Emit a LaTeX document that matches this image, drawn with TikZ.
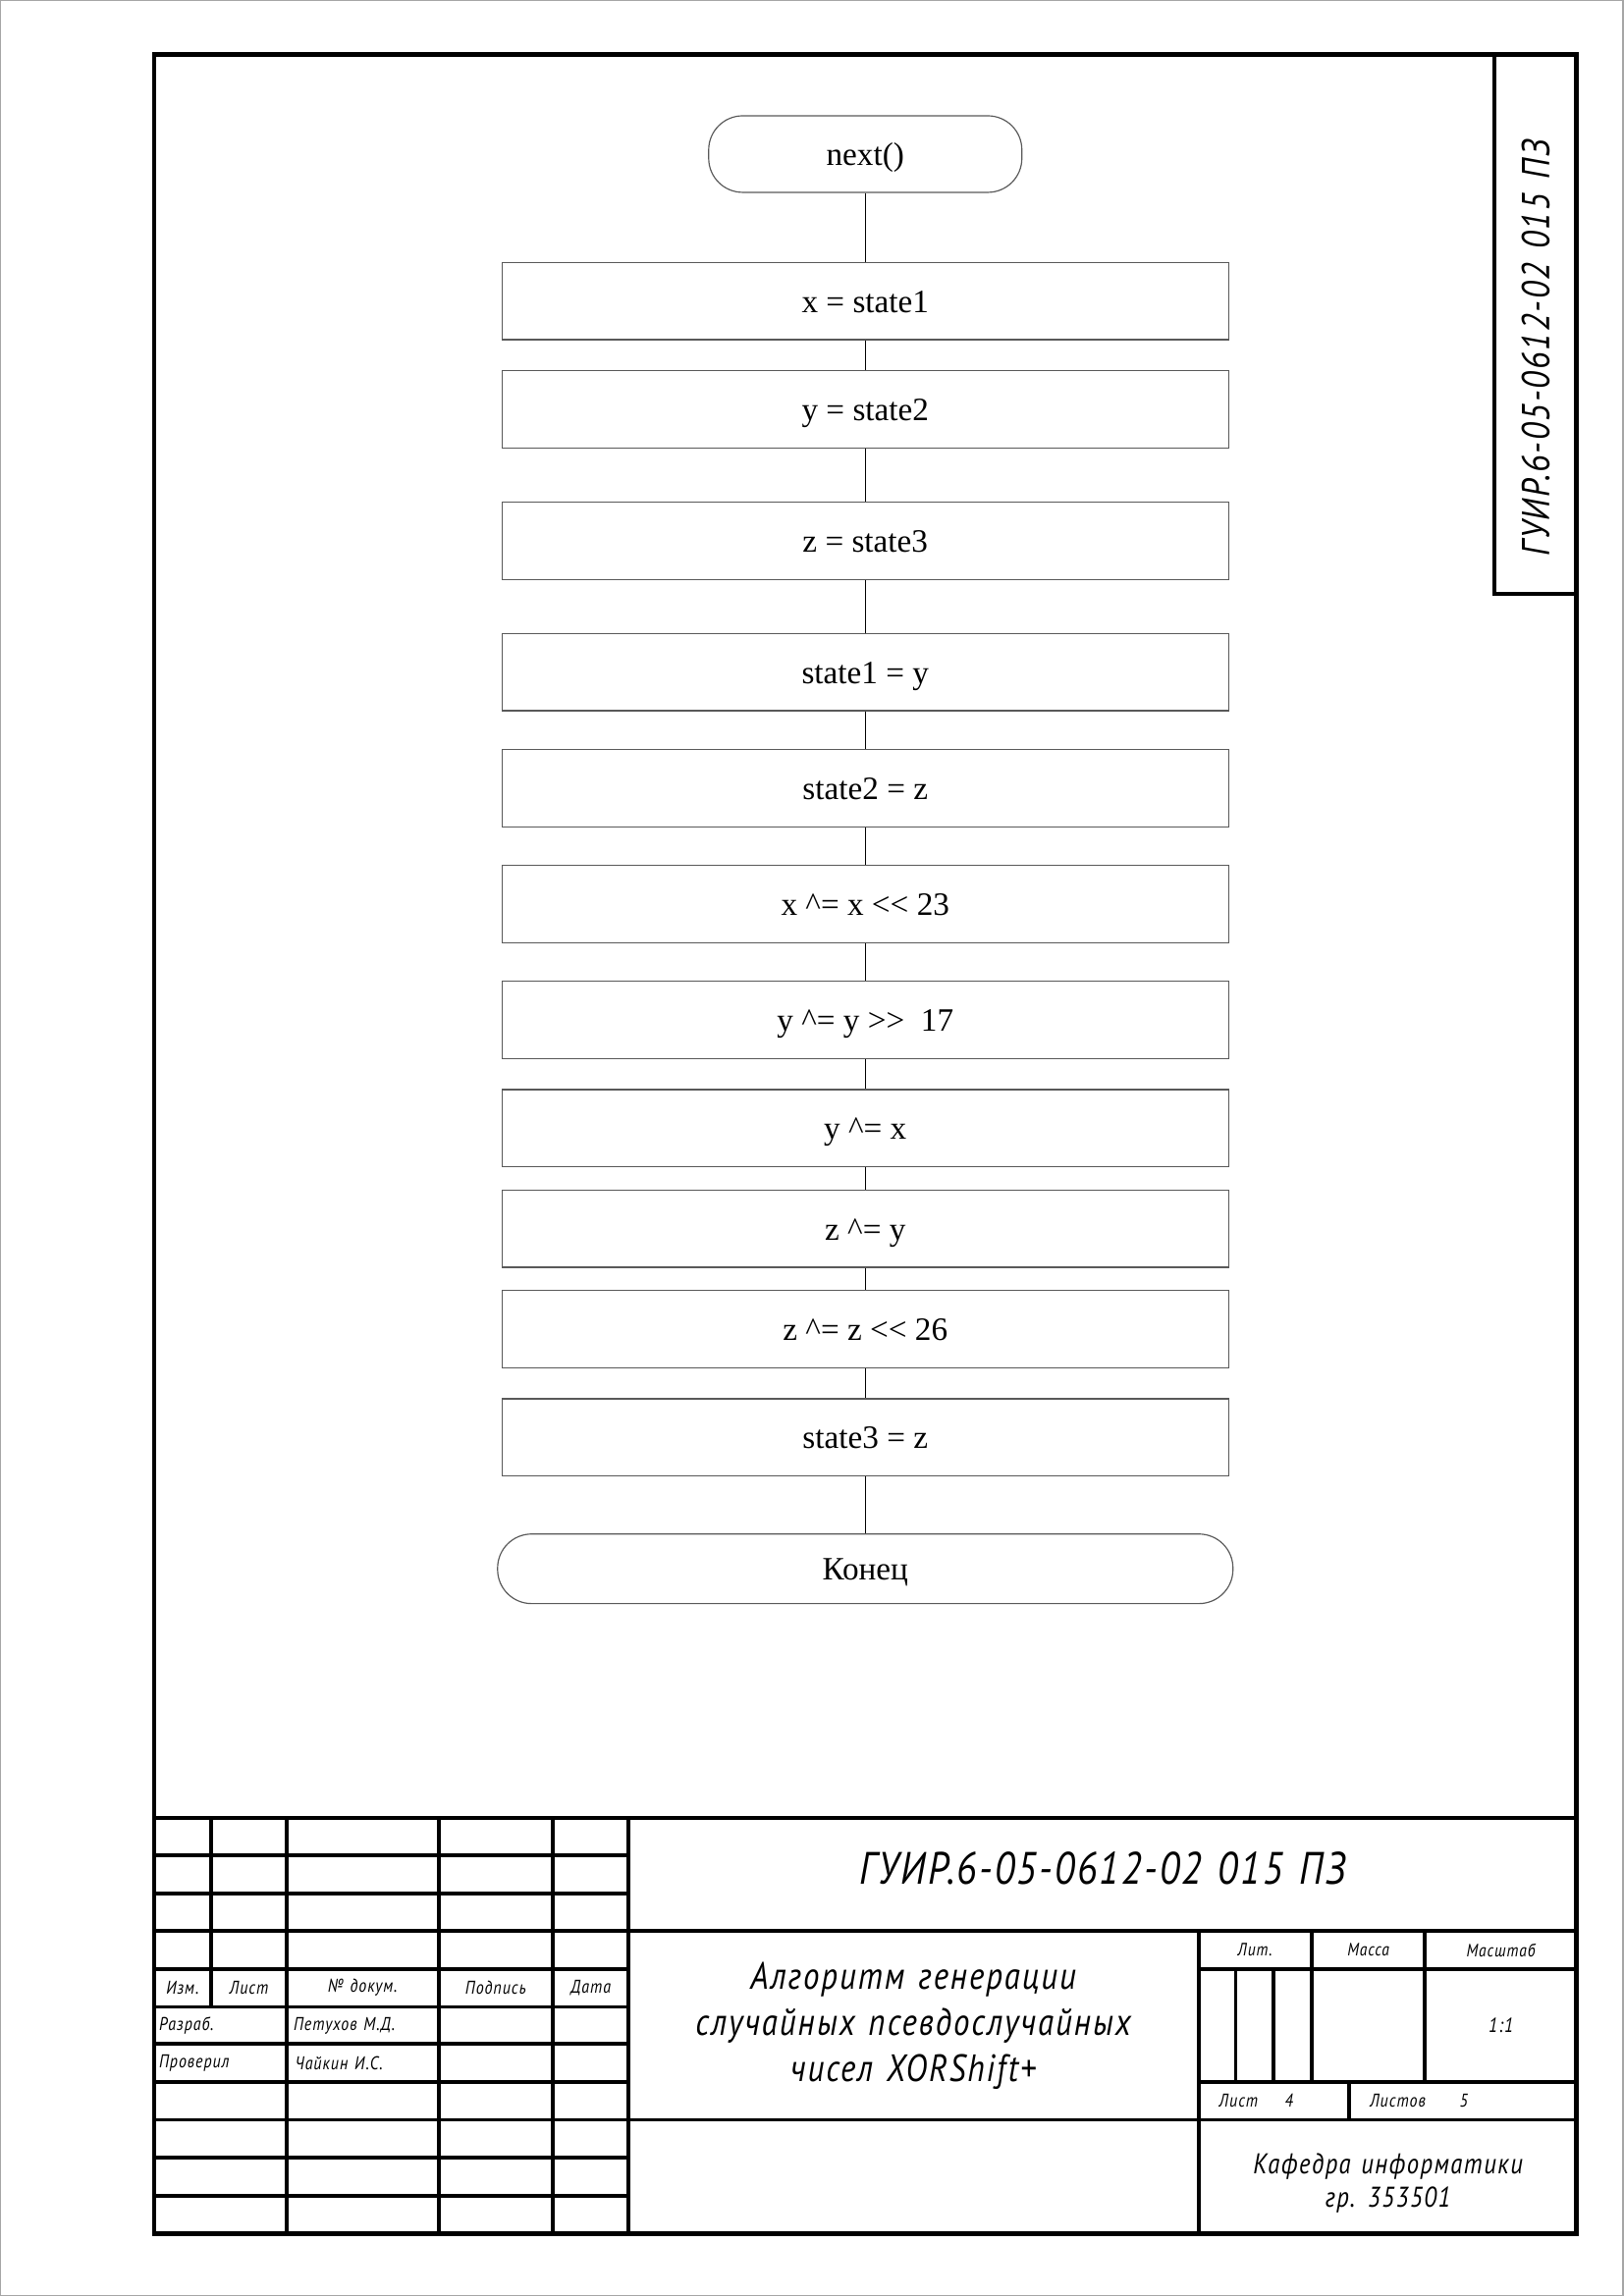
\documentclass[tikz,border=0pt]{standalone}
\usepackage{fontspec}
\setmainfont{Liberation Serif}
\newfontfamily\gost{PT Sans}[FakeStretch=0.85, LetterSpace=5, WordSpace=1.3]
\usetikzlibrary{positioning}
\newcommand{\gostsize}[1]{\gost\itshape\fontsize{#1}{#1}\selectfont}
\tikzset{
  proc/.style={draw=black!65, line width=0.15mm, minimum width=94mm, minimum height=10mm,
    inner sep=0pt, text height=8.3pt, text depth=0pt, font=\fontsize{12}{14}\selectfont},
  term/.style={proc, rounded corners=4.4mm},
  link/.style={line width=0.18mm},
  frame/.style={line width=0.5mm},
}

\begin{document}
\begin{tikzpicture}[x=1mm, y=-1mm]
  \useasboundingbox (0,0) rectangle (210,297);
  \draw[black!35, line width=0.15mm] (0.1,0.1) rectangle (209.9,296.9);
  % sheet frame
  \draw[frame, line width=0.6mm] (19.95,7) rectangle (203.9,288.9);
  \draw[frame] (193.3,7) -- (193.3,76.8) -- (203.9,76.8);
  \node[rotate=90, font=\gostsize{14.3}] (SideCode) at (198.6,45) {ГУИР.6-05-0612-02 015 ПЗ};

  % flowchart
  \node[term, minimum width=40.5mm, minimum height=9.9mm] (Start) at (111.9,19.93) {next()};
  \node[proc, on grid, below=19mm of Start] (X) {x = state1};
  \node[proc, on grid, below=14mm of X] (Y) {y = state2};
  \node[proc, on grid, below=17mm of Y] (Z) {z = state3};
  \node[proc, on grid, below=17mm of Z] (S1) {state1 = y};
  \node[proc, on grid, below=15mm of S1] (S2) {state2 = z};
  \node[proc, on grid, below=15mm of S2] (XX) {x \textasciicircum= x <{}< 23};
  \node[proc, on grid, below=15mm of XX] (YY) {y \textasciicircum= y >{}>\ \ 17};
  \node[proc, on grid, below=14mm of YY] (YX) {y \textasciicircum= x};
  \node[proc, on grid, below=13mm of YX] (ZY) {z \textasciicircum= y};
  \node[proc, on grid, below=13mm of ZY] (ZZ) {z \textasciicircum= z <{}< 26};
  \node[proc, on grid, below=14mm of ZZ] (S3) {state3 = z};
  \node[term, on grid, below=17mm of S3, minimum width=95.1mm, minimum height=9mm] (End) {Конец};
  \draw[link] (Start) to (X);
  \draw[link] (X) to (Y);
  \draw[link] (Y) to (Z);
  \draw[link] (Z) to (S1);
  \draw[link] (S1) to (S2);
  \draw[link] (S2) to (XX);
  \draw[link] (XX) to (YY);
  \draw[link] (YY) to (YX);
  \draw[link] (YX) to (ZY);
  \draw[link] (ZY) to (ZZ);
  \draw[link] (ZZ) to (S3);
  \draw[link] (S3) to (End);

  % title block
  \draw[frame] (19.95,235.1) -- (203.9,235.1);
  \foreach \r in {240.0,244.9,249.8,254.7,259.6,264.4,269.3,274.2,279.1,284.0}
    \draw[frame] (19.95,\r) -- (81.25,\r);
  \draw[frame] (27.3,235.1) -- (27.3,259.6);
  \foreach \c in {37.1,56.75,71.5,81.25}
    \draw[frame] (\c,235.1) -- (\c,288.9);
  \draw[frame] (81.25,249.8) -- (203.9,249.8);
  \draw[frame] (81.25,274.2) -- (203.9,274.2);
  \draw[frame] (155,249.8) -- (155,288.9);
  \draw[frame] (155,254.7) -- (203.9,254.7);
  \draw[frame] (155,269.3) -- (203.9,269.3);
  \foreach \c in {159.8,164.7}
    \draw[frame] (\c,254.7) -- (\c,269.3);
  \foreach \c in {169.6,184.3}
    \draw[frame] (\c,249.8) -- (\c,269.3);
  \draw[frame] (174.5,269.3) -- (174.5,274.2);

  \node[font=\gostsize{6.8}] (Izm) at (23.6,257.15) {Изм.};
  \node[font=\gostsize{6.8}] (List) at (32.2,257.15) {Лист};
  \node[font=\gostsize{6.8}] (Doc) at (46.9,257.15) {№ докум.};
  \node[font=\gostsize{6.8}] (Sign) at (64.1,257.15) {Подпись};
  \node[font=\gostsize{6.8}] (Date) at (76.4,257.15) {Дата};
  \node[font=\gostsize{6.8}, anchor=west, inner sep=0pt] (Dev) at (20.5,262.0) {Разраб.};
  \node[font=\gostsize{6.8}, anchor=west, inner sep=0pt] (DevName) at (37.9,262.0) {Петухов М.Д.};
  \node[font=\gostsize{6.8}, anchor=west, inner sep=0pt] (Chk) at (20.5,266.85) {Проверил};
  \node[font=\gostsize{6.8}, anchor=west, inner sep=0pt] (ChkName) at (38.1,266.85) {Чайкин И.С.};

  \node[font=\gostsize{16.7}] (Code) at (142.6,241.7) {ГУИР.6-05-0612-02 015 ПЗ};
  \node[font=\gost\itshape\fontsize{14}{17}\selectfont, align=center] (Title) at (118.1,262)
    {Алгоритм генерации\\случайных псевдослучайных\\чисел XORShift+};
  \node[font=\gostsize{6.6}] (Lit) at (162.3,252.25) {Лит.};
  \node[font=\gostsize{6.6}] (Mass) at (176.95,252.25) {Масса};
  \node[font=\gostsize{6.6}] (Scale) at (194.1,252.25) {Масштаб};
  \node[font=\gostsize{7.5}] (ScaleVal) at (194.1,262) {1:1};
  \node[font=\gostsize{6.8}, anchor=west, inner sep=0pt] (Sheet) at (157.6,271.75) {Лист};
  \node[font=\gostsize{6.8}, anchor=west, inner sep=0pt] (SheetNo) at (166.1,271.75) {4};
  \node[font=\gostsize{6.8}, anchor=west, inner sep=0pt] (Sheets) at (177.1,271.75) {Листов};
  \node[font=\gostsize{6.8}, anchor=west, inner sep=0pt] (SheetsNo) at (188.7,271.75) {5};
  \node[font=\gost\itshape\fontsize{10.5}{12.5}\selectfont, align=center] (Dept) at (179.5,282.4)
    {Кафедра информатики\\гр. 353501};
\end{tikzpicture}
\end{document}
